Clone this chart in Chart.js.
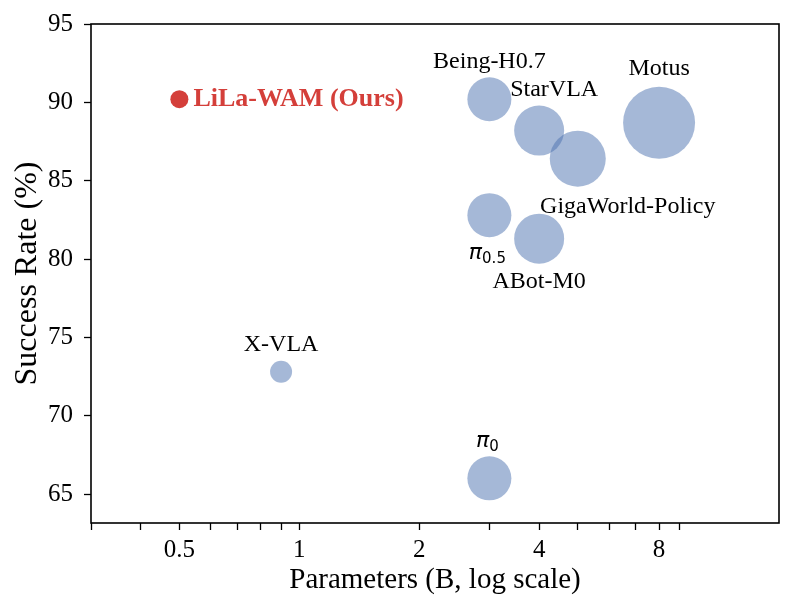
<!DOCTYPE html>
<html>
<head>
<meta charset="utf-8">
<script src="https://cdn.jsdelivr.net/npm/chart.js@4.4.1/dist/chart.umd.min.js"></script>
<style>
  html, body { margin: 0; padding: 0; background: #fff; }
  #wrap { width: 795px; height: 615px; }
</style>
</head>
<body>
<div id="wrap"><canvas id="chart"></canvas></div>
<script>
// values
const models  = ['Being-H0.7', 'StarVLA', 'GigaWorld-Policy', 'Motus', 'π_0.5', 'ABot-M0', 'X-VLA', 'π_0'];
const params  = [3, 4, 5, 8, 3, 4, 0.9, 3];            // billions
const success = [90.2, 88.2, 86.4, 88.7, 82.8, 81.3, 72.8, 66.0];
const bubbleR = [22, 25, 28, 36, 22, 25, 11, 22];      // marker radius as drawn

const oursName    = 'LiLa-WAM (Ours)';
const oursParams  = [0.5];
const oursSuccess = [90.2];

const xMajorTicks = [0.5, 1, 2, 4, 8];
const xMinorTicks = [0.3, 0.4, 0.6, 0.7, 0.8, 0.9, 3, 5, 6, 7, 9];
const yTicks      = [65, 70, 75, 80, 85, 90, 95];

// label placement, pixels from the bubble centre
const labelOffsets = [[0, -37], [15, -41], [50, 48], [0, -54], [-2, 38], [0, 43], [0, -27], [-2, -37]];

const SERIF = '"Liberation Serif", "Times New Roman", serif';

// draws the model names next to each bubble
const labelPlugin = {
  id: 'bubbleLabels',
  afterDatasetsDraw(chart) {
    const ctx = chart.ctx;
    ctx.save();
    ctx.textBaseline = 'middle';

    const base = chart.getDatasetMeta(1).data;
    base.forEach((pt, i) => {
      const x = pt.x + labelOffsets[i][0];
      const y = pt.y + labelOffsets[i][1];
      const name = models[i];
      ctx.fillStyle = '#000';
      if (name.includes('_')) {
        // pi with a subscript, mathtext style
        const [main, sub] = name.split('_');
        ctx.font = 'italic 22px "DejaVu Sans"';
        const w1 = ctx.measureText(main).width;
        ctx.font = '15px "DejaVu Sans"';
        const w2 = ctx.measureText(sub).width;
        let left = x - (w1 + w2) / 2;
        ctx.textAlign = 'left';
        ctx.font = 'italic 22px "DejaVu Sans"';
        ctx.fillText(main, left, y);
        ctx.font = '15px "DejaVu Sans"';
        ctx.fillText(sub, left + w1, y + 6);
      } else {
        ctx.textAlign = 'center';
        ctx.font = '24px ' + SERIF;
        ctx.fillText(name, x, y);
      }
    });

    const ours = chart.getDatasetMeta(0).data[0];
    ctx.textAlign = 'left';
    ctx.fillStyle = '#D43F3A';
    ctx.font = 'bold 26px ' + SERIF;
    ctx.fillText(oursName, ours.x + 14, ours.y);
    ctx.restore();
  }
};

// full box around the plot area
const framePlugin = {
  id: 'frame',
  afterDraw(chart) {
    const a = chart.chartArea;
    const ctx = chart.ctx;
    ctx.save();
    ctx.strokeStyle = '#000';
    ctx.lineWidth = 1.6;
    ctx.strokeRect(a.left, a.top, a.right - a.left, a.bottom - a.top);
    ctx.restore();
  }
};

function noMargins(s) {
  s.paddingTop = 0; s.paddingBottom = 0; s.paddingLeft = 0; s.paddingRight = 0;
}

new Chart(document.getElementById('chart'), {
  type: 'bubble',
  data: {
    datasets: [
      {
        label: oursName,
        data: oursParams.map((x, i) => ({ x: x, y: oursSuccess[i], r: 9 })),
        backgroundColor: '#D43F3A',
        borderWidth: 0
      },
      {
        label: 'Baselines',
        data: params.map((x, i) => ({ x: x, y: success[i], r: bubbleR[i] })),
        backgroundColor: 'rgba(76, 114, 176, 0.5)',
        borderWidth: 0
      }
    ]
  },
  options: {
    responsive: true,
    maintainAspectRatio: false,
    animation: false,
    events: [],
    layout: { autoPadding: false, padding: { top: 24, right: 16, left: 0, bottom: 0 } },
    plugins: { legend: { display: false }, tooltip: { enabled: false } },
    scales: {
      x: {
        type: 'logarithmic',
        min: 0.3,
        max: 16,
        afterBuildTicks: s => {
          s.ticks = xMinorTicks.concat(xMajorTicks)
            .sort((a, b) => a - b)
            .map(v => ({ value: v, major: xMajorTicks.includes(v) }));
        },
        afterFit: s => { s.height = 92; noMargins(s); },
        ticks: {
          autoSkip: false,
          maxRotation: 0,
          padding: 5,
          color: '#000',
          font: { family: SERIF, size: 25 },
          callback: v => xMajorTicks.includes(v) ? String(v) : ''
        },
        grid: { drawOnChartArea: false, tickLength: 7, tickWidth: 1.3, tickColor: '#000' },
        border: { display: false },
        title: {
          display: true,
          text: 'Parameters (B, log scale)',
          color: '#000',
          font: { family: SERIF, size: 29 },
          padding: { top: 0, bottom: 17 }
        }
      },
      y: {
        min: 63.15,
        max: 95,
        afterBuildTicks: s => { s.ticks = yTicks.map(v => ({ value: v })); },
        afterFit: s => { s.width = 91; noMargins(s); },
        ticks: {
          padding: 11,
          color: '#000',
          font: { family: SERIF, size: 25 }
        },
        grid: { drawOnChartArea: false, tickLength: 7, tickWidth: 1.3, tickColor: '#000' },
        border: { display: false },
        title: {
          display: true,
          text: 'Success Rate (%)',
          color: '#000',
          font: { family: SERIF, size: 32 },
          padding: { top: 8, bottom: 0 }
        }
      }
    }
  },
  plugins: [labelPlugin, framePlugin]
});
</script>
</body>
</html>
